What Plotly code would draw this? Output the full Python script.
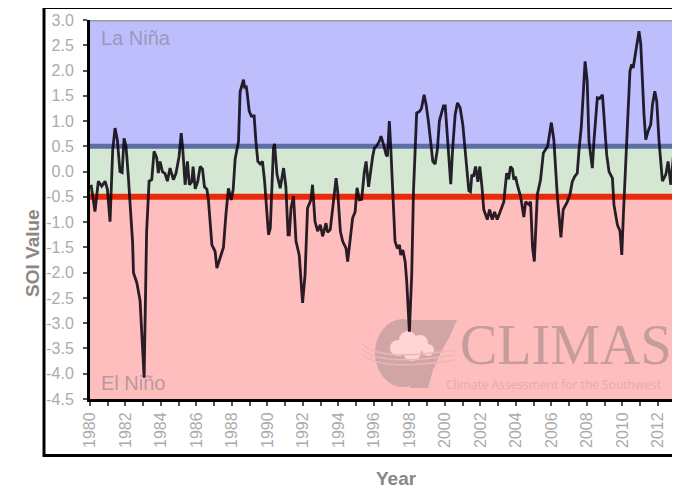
import plotly.graph_objects as go

# ---- data (decimal year, SOI value) ----
years = [
    1980.06, 1980.28, 1980.47, 1980.66, 1980.85, 1980.98, 1981.13, 1981.28, 1981.41, 1981.54,
    1981.69, 1981.81, 1981.92, 1982.03, 1982.16, 1982.31, 1982.40, 1982.45, 1982.64, 1982.82,
    1983.05, 1983.19, 1983.27, 1983.33, 1983.48, 1983.61, 1983.76, 1983.85, 1983.95, 1984.08,
    1984.23, 1984.36, 1984.51, 1984.70, 1984.85, 1985.02, 1985.14, 1985.23, 1985.36, 1985.49,
    1985.60, 1985.74, 1985.81, 1985.93, 1986.07, 1986.21, 1986.34, 1986.45, 1986.59, 1986.68,
    1986.87, 1987.05, 1987.15, 1987.34, 1987.52, 1987.66, 1987.80, 1987.96, 1988.07, 1988.18,
    1988.37, 1988.46, 1988.65, 1988.72, 1988.80, 1988.86, 1988.97, 1989.09, 1989.25, 1989.35,
    1989.46, 1989.59, 1989.72, 1989.84, 1989.97, 1990.06, 1990.16, 1990.25, 1990.34, 1990.40,
    1990.54, 1990.72, 1990.91, 1991.04, 1991.16, 1991.23, 1991.33, 1991.47, 1991.61, 1991.79,
    1991.98, 1992.12, 1992.26, 1992.45, 1992.54, 1992.68, 1992.83, 1992.98, 1993.11, 1993.30,
    1993.39, 1993.54, 1993.67, 1993.87, 1993.96, 1994.11, 1994.24, 1994.43, 1994.52, 1994.67,
    1994.80, 1994.94, 1995.05, 1995.18, 1995.31, 1995.46, 1995.56, 1995.70, 1995.83, 1995.93,
    1996.03, 1996.14, 1996.31, 1996.40, 1996.55, 1996.69, 1996.76, 1996.87, 1996.95, 1997.06,
    1997.19, 1997.32, 1997.44, 1997.51, 1997.63, 1997.76, 1997.85, 1998.00, 1998.13, 1998.23,
    1998.32, 1998.41, 1998.57, 1998.68, 1998.83, 1998.94, 1999.07, 1999.20, 1999.32, 1999.45,
    1999.58, 1999.69, 1999.82, 1999.92, 2000.02, 2000.11, 2000.22, 2000.33, 2000.44, 2000.58,
    2000.71, 2000.86, 2001.01, 2001.14, 2001.24, 2001.35, 2001.44, 2001.52, 2001.61, 2001.73,
    2001.86, 2001.97, 2002.09, 2002.19, 2002.39, 2002.52, 2002.67, 2002.80, 2002.95, 2003.14,
    2003.32, 2003.48, 2003.59, 2003.70, 2003.81, 2003.89, 2003.98, 2004.08, 2004.27, 2004.45,
    2004.55, 2004.73, 2004.83, 2004.94, 2005.04, 2005.21, 2005.39, 2005.55, 2005.68, 2005.79,
    2006.00, 2006.14, 2006.34, 2006.44, 2006.54, 2006.67, 2006.90, 2007.05, 2007.18, 2007.31,
    2007.46, 2007.56, 2007.69, 2007.80, 2007.90, 2008.02, 2008.12, 2008.31, 2008.40, 2008.59,
    2008.72, 2008.88, 2009.01, 2009.12, 2009.25, 2009.44, 2009.53, 2009.72, 2009.87, 2009.97,
    2010.06, 2010.19, 2010.29, 2010.43, 2010.53, 2010.61, 2010.70, 2010.81, 2010.94, 2011.04,
    2011.13, 2011.22, 2011.32, 2011.45, 2011.60, 2011.70, 2011.83, 2011.94, 2012.07, 2012.17,
    2012.26, 2012.45, 2012.58, 2012.73, 2012.83, 2012.92, 2013.01, 2013.14, 2013.26, 2013.35,
]
soi = [
    -0.26, -0.79, -0.19, -0.29, -0.19, -0.35, -0.99, 0.43, 0.86, 0.63,
    0.00, -0.02, 0.66, 0.50, -0.10, -0.82, -1.40, -2.00, -2.20, -2.55,
    -4.08, -1.20, -0.50, -0.19, -0.16, 0.40, 0.27, -0.03, 0.20, 0.00,
    -0.04, -0.19, 0.07, -0.16, -0.03, 0.30, 0.76, 0.43, -0.26, 0.20,
    -0.26, -0.20, 0.10, -0.34, -0.20, 0.10, 0.05, -0.30, -0.35, -0.59,
    -1.45, -1.58, -1.91, -1.70, -1.50, -0.85, -0.33, -0.56, -0.35, 0.25,
    0.60, 1.58, 1.82, 1.65, 1.70, 1.55, 1.20, 1.10, 1.10, 0.60,
    0.20, 0.15, 0.20, -0.19, -0.85, -1.25, -1.12, -0.19, 0.47, 0.55,
    -0.06, -0.33, 0.07, -0.30, -1.25, -1.25, -0.72, -0.49, -1.38, -1.65,
    -2.60, -2.04, -0.72, -0.56, -0.26, -0.99, -1.18, -1.05, -1.28, -1.02,
    -1.20, -1.15, -0.72, -0.13, -0.40, -1.18, -1.38, -1.52, -1.78, -1.38,
    -0.92, -0.80, -0.32, -0.56, -0.55, 0.00, 0.20, -0.30, 0.10, 0.30,
    0.47, 0.50, 0.60, 0.70, 0.53, 0.33, 0.30, 1.00, 0.47, -0.46,
    -1.38, -1.52, -1.45, -1.65, -1.55, -1.78, -2.18, -3.17, -2.04, -0.39,
    0.60, 1.16, 1.19, 1.25, 1.52, 1.33, 1.00, 0.60, 0.20, 0.15,
    0.45, 1.00, 1.20, 1.30, 1.30, 0.80, 0.30, -0.25, 0.47, 1.13,
    1.36, 1.26, 0.93, 0.47, 0.00, -0.38, -0.40, -0.06, -0.10, 0.10,
    -0.20, 0.10, -0.30, -0.75, -0.95, -0.75, -0.95, -0.80, -0.95, -0.75,
    -0.60, -0.03, -0.15, 0.10, 0.05, -0.16, -0.10, -0.26, -0.50, -0.90,
    -0.60, -0.65, -0.60, -1.50, -1.78, -0.45, -0.16, 0.37, 0.43, 0.50,
    0.97, 0.63, -0.50, -0.90, -1.30, -0.75, -0.60, -0.45, -0.20, -0.10,
    -0.03, 0.43, 0.90, 1.55, 2.18, 1.79, 0.60, 0.07, 0.60, 1.46,
    1.45, 1.52, 0.93, 0.33, 0.00, -0.13, -0.66, -1.05, -1.18, -1.65,
    -0.85, 0.33, 0.93, 1.99, 2.12, 2.05, 2.25, 2.58, 2.78, 2.52,
    1.79, 1.13, 0.63, 0.80, 0.93, 1.33, 1.59, 1.39, 0.60, 0.07,
    -0.19, -0.06, 0.20, -0.26, 0.07, 0.47, 0.86, 0.93, 0.86, 0.90,
]

x_tick_years = list(range(1980, 2014))
x_tick_text = [str(y) if y % 2 == 0 else "" for y in x_tick_years]
y_tick_vals = [3.0, 2.5, 2.0, 1.5, 1.0, 0.5, 0.0, -0.5, -1.0, -1.5, -2.0,
               -2.5, -3.0, -3.5, -4.0, -4.5]
y_tick_text = [f"{v:.1f}" for v in y_tick_vals]

band_limits = [(0.5, 3.0), (-0.5, 0.5), (-4.5, -0.5)]
band_colors = ["#BEBEFD", "#D4E7D3", "#FFBEBE"]
threshold_values = [3.0, 0.5, -0.5]
threshold_colors = ["#9C9CA6", "#5F6DA6", "#EA2A0C"]
threshold_widths = [3, 5, 6]
region_labels = ["La Niña", "El Niño"]

# ---- geometry (page body has an 8px margin, so the figure starts at 8,8) ----
OFF = 8
W, H = 680 - OFF, 489 - OFF
PLOT_L, PLOT_R, PLOT_T, PLOT_B = 90, 680, 20, 399   # in window pixels
ML, MR, MT, MB = PLOT_L - OFF, 680 - PLOT_R, PLOT_T - OFF, (489 - PLOT_B)
PW, PH = W - ML - MR, H - MT - MB


def px(x):
    return (x - PLOT_L) / PW


def py(y):
    return (PLOT_B - y) / PH


shapes = []
for (lo, hi), col in zip(band_limits, band_colors):
    shapes.append(dict(type="rect", xref="x domain", yref="y", x0=0, x1=1,
                       y0=lo, y1=hi, fillcolor=col, line=dict(width=0),
                       layer="below"))

# CLIMAS logo (watermark) approximated with shapes
logo_col = "#D1A4A6"
shapes.append(dict(type="circle", xref="paper", yref="paper",
                   x0=px(375), x1=px(431), y0=py(387), y1=py(319),
                   fillcolor=logo_col, line=dict(width=0), layer="below"))
poly = [(410, 320), (457, 320), (449, 338), (441, 352), (433, 370), (428, 388), (410, 388)]
path = "M " + " L ".join(f"{px(a):.5f},{py(b):.5f}" for a, b in poly) + " Z"
shapes.append(dict(type="path", xref="paper", yref="paper", path=path,
                   fillcolor=logo_col, line=dict(width=0), layer="below"))
for cx, cy, r in [(398, 348, 8), (408, 340, 9), (420, 343, 8), (428, 350, 6), (412, 352, 9)]:
    shapes.append(dict(type="circle", xref="paper", yref="paper",
                       x0=px(cx - r), x1=px(cx + r), y0=py(cy + r), y1=py(cy - r),
                       fillcolor="#FFD4D4", line=dict(width=0), layer="below"))
for y0 in [352, 357, 362]:
    sw = (f"M {px(362):.5f},{py(y0 - 8):.5f} Q {px(380):.5f},{py(y0 + 10):.5f} "
          f"{px(455):.5f},{py(y0 - 2):.5f}")
    shapes.append(dict(type="path", xref="paper", yref="paper", path=sw,
                       line=dict(color="#EBB7B8", width=1.5), layer="below"))

for v, c, w in zip(threshold_values, threshold_colors, threshold_widths):
    shapes.append(dict(type="line", xref="x domain", yref="y", x0=0, x1=1,
                       y0=v, y1=v, line=dict(color=c, width=w), layer="below"))

# outer frame
shapes.append(dict(type="rect", xref="paper", yref="paper",
                   x0=px(44), x1=px(720), y0=py(455.5), y1=py(7.5),
                   line=dict(color="black", width=3), fillcolor="rgba(0,0,0,0)"))

fig = go.Figure()
fig.add_trace(go.Scatter(x=years, y=soi, mode="lines",
                         line=dict(color="rgba(8,0,12,0.86)", width=2.8),
                         hoverinfo="skip", showlegend=False))

label_font = dict(family="Liberation Sans, Arial", size=20, color="rgba(120,120,130,0.55)")
annotations = [
    dict(text=region_labels[0], x=px(99), y=py(38), xref="paper", yref="paper",
         xanchor="left", yanchor="middle", showarrow=False, font=label_font),
    dict(text=region_labels[1], x=px(99), y=py(383), xref="paper", yref="paper",
         xanchor="left", yanchor="middle", showarrow=False, font=label_font),
    dict(text="<b>SOI Value</b>", x=px(32), y=py(253), xref="paper", yref="paper",
         textangle=-90, showarrow=False, xanchor="center", yanchor="middle",
         font=dict(family="Liberation Sans, Arial", size=19, color="#8D8682")),
    dict(text="<b>Year</b>", x=px(396), y=py(478), xref="paper", yref="paper",
         showarrow=False, xanchor="center", yanchor="middle",
         font=dict(family="Liberation Sans, Arial", size=19, color="#8D8682")),
    dict(text="CLIMAS", x=px(566), y=py(345), xref="paper", yref="paper",
         showarrow=False, xanchor="center", yanchor="middle",
         font=dict(family="Liberation Serif, Times New Roman", size=56, color="#C69C9D")),
    dict(text="Climate Assessment for the Southwest", x=px(553), y=py(384),
         xref="paper", yref="paper", showarrow=False, xanchor="center", yanchor="middle",
         font=dict(family="Open Sans", size=12, color="#E6AAAB")),
]

fig.update_layout(
    width=W, height=H,
    margin=dict(l=ML, r=MR, t=MT, b=MB, pad=0),
    paper_bgcolor="white", plot_bgcolor="rgba(0,0,0,0)",
    shapes=shapes, annotations=annotations, showlegend=False,
    xaxis=dict(range=[1980, 2013.25], tickmode="array", tickvals=x_tick_years,
               ticktext=x_tick_text, tickangle=-90, ticks="outside", ticklen=4,
               tickcolor="#555555", tickwidth=1.5, showline=True, linecolor="black",
               linewidth=3, showgrid=False, zeroline=False,
               tickfont=dict(family="Liberation Sans, Arial", size=16, color="#ABABAB")),
    yaxis=dict(range=[-4.5, 3.0], tickmode="array", tickvals=y_tick_vals,
               ticktext=y_tick_text, ticks="outside", ticklen=4, tickcolor="#555555",
               tickwidth=1.5, showline=True, linecolor="black", linewidth=3,
               showgrid=False, zeroline=False, ticklabelstandoff=6,
               tickfont=dict(family="Liberation Sans, Arial", size=16, color="#ABABAB")),
)

fig.write_html("out.html")
